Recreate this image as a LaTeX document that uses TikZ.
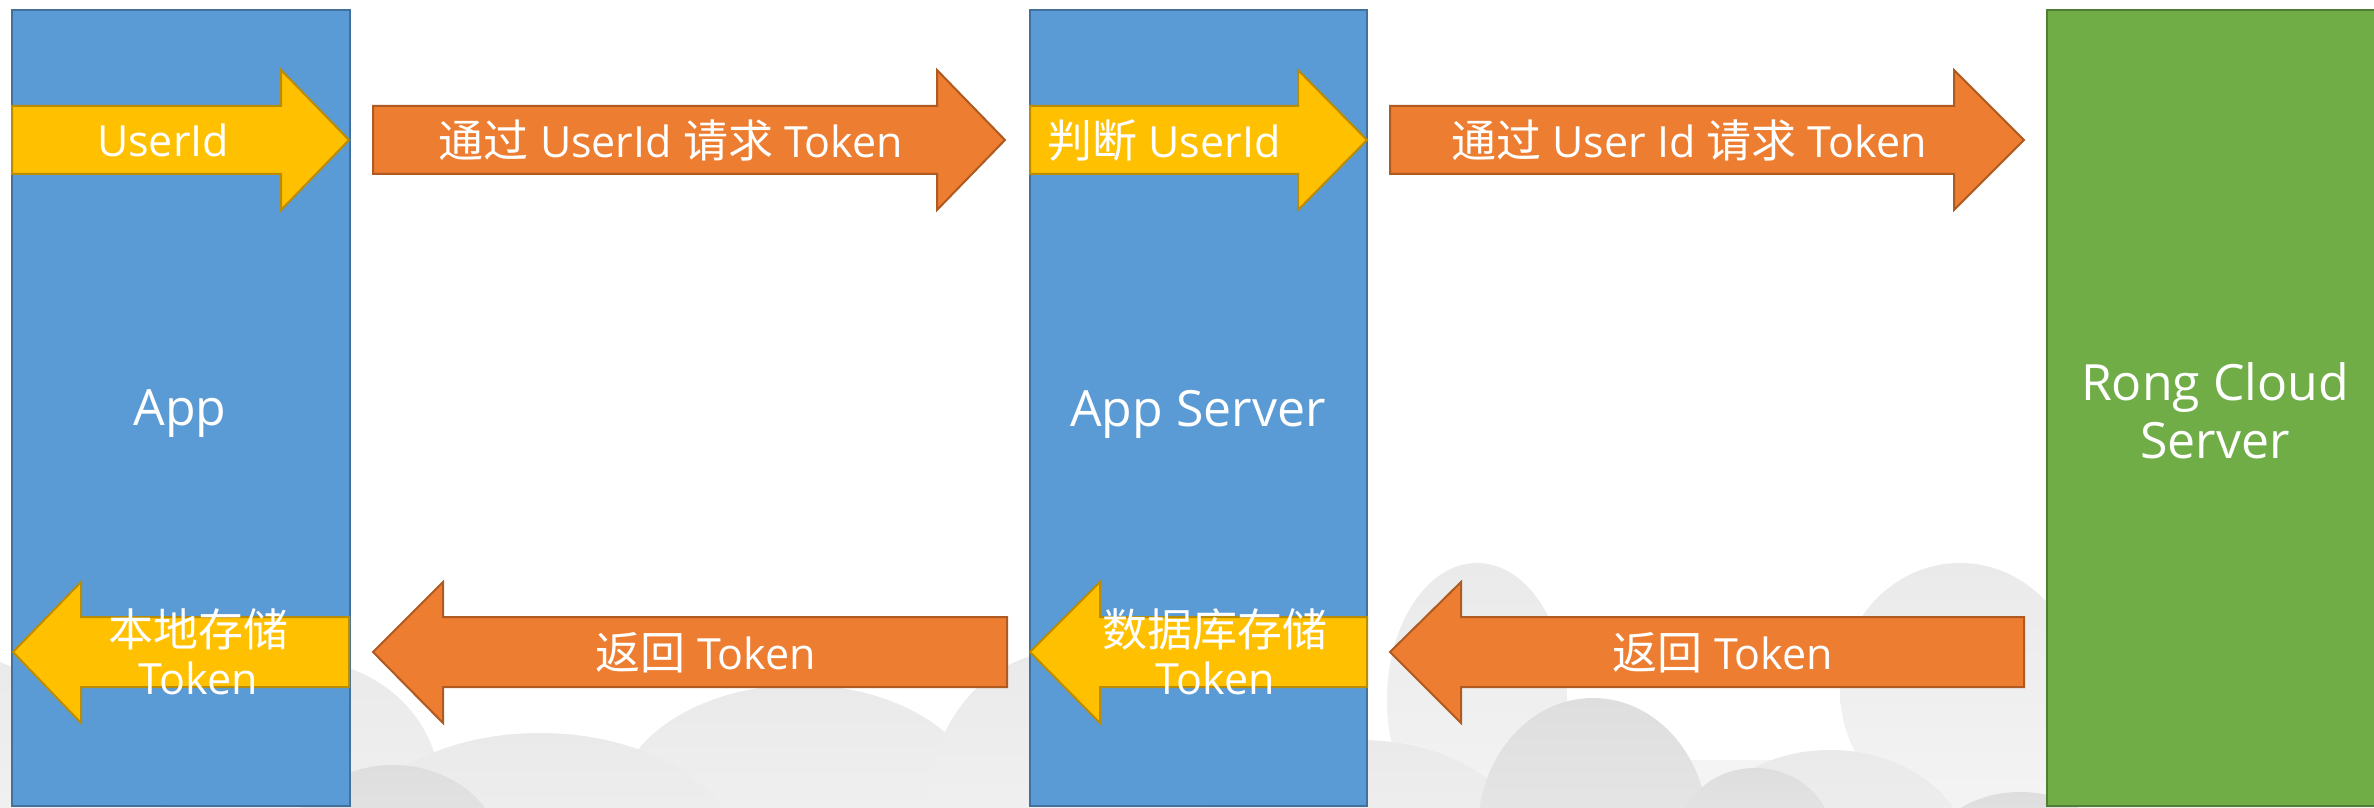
\documentclass[tikz,border=0pt]{standalone}
\usepackage{fontspec}
\setmainfont{Open Sans}
\newfontfamily\cjk{Noto Sans CJK SC}
\definecolor{boxblue}{HTML}{5B9BD5}
\definecolor{boxblueline}{HTML}{41719C}
\definecolor{arrowyellow}{HTML}{FFC000}
\definecolor{arrowyellowline}{HTML}{BC8C00}
\definecolor{arroworange}{HTML}{ED7D31}
\definecolor{arroworangeline}{HTML}{AE5A21}
\definecolor{boxgreen}{HTML}{70AD47}
\definecolor{boxgreenline}{HTML}{507E32}
\definecolor{cloudbacktop}{HTML}{EAEAEA}
\definecolor{cloudbackbot}{HTML}{F4F4F4}
\definecolor{cloudfronttop}{HTML}{DEDEDE}
\definecolor{cloudfrontbot}{HTML}{EEEEEE}
\tikzset{
  bluebox/.style={draw=boxblueline, fill=boxblue, line width=1.2pt},
  greenbox/.style={draw=boxgreenline, fill=boxgreen, line width=1.2pt},
  yellowarrow/.style={draw=arrowyellowline, fill=arrowyellow, line width=1pt, line join=miter},
  orangearrow/.style={draw=arroworangeline, fill=arroworange, line width=1pt, line join=miter},
  arrowtext/.style={text=white, font=\fontsize{21.5}{24}\selectfont, align=center, inner sep=0pt},
  boxtext/.style={text=white, font=\fontsize{25}{29}\selectfont, align=center, inner sep=0pt},
  backcloud/.style={top color=cloudbacktop, bottom color=cloudbackbot, draw=none},
  frontcloud/.style={top color=cloudfronttop, bottom color=cloudfrontbot, draw=none}
}
\newcommand{\zh}[1]{{\cjk\fontsize{22.5}{24}\selectfont #1}}
\begin{document}
\begin{tikzpicture}[x=0.5pt,y=-0.5pt]
\useasboundingbox (0,0) rectangle (2374,808);
\fill[white] (0,0) rectangle (2374,808);
% background clouds
\begin{scope}
\clip (0,0) rectangle (2374,808);
\fill[cloudbackbot] (0,760) rectangle (2374,808);
\shade[backcloud] (-40,780) ellipse [x radius=120, y radius=125];
\shade[backcloud] (300,790) ellipse [x radius=140, y radius=130];
\shade[backcloud] (800,810) ellipse [x radius=185, y radius=125];
\shade[backcloud] (540,860) ellipse [x radius=200, y radius=127];
\shade[backcloud] (1070,800) ellipse [x radius=140, y radius=150];
\shade[backcloud] (1477,700) ellipse [x radius=90, y radius=137];
\shade[backcloud] (1960,690) ellipse [x radius=120, y radius=127];
\shade[backcloud] (1360,840) ellipse [x radius=160, y radius=100];
\shade[backcloud] (1830,860) ellipse [x radius=140, y radius=110];
\shade[frontcloud] (393,860) ellipse [x radius=110, y radius=95];
\shade[frontcloud] (1593,830) ellipse [x radius=115, y radius=132];
\shade[frontcloud] (1755,840) ellipse [x radius=78, y radius=72];
\shade[frontcloud] (2020,860) ellipse [x radius=92, y radius=68];
\end{scope}
% system boxes
\draw[bluebox] (12,10) rectangle (350,806);
\draw[bluebox] (1030,10) rectangle (1367,806);
\draw[greenbox] (2047,10) rectangle (2390,806);
\node[boxtext] (app) at (180,414) {App};
\node[boxtext] (appserver) at (1198,414) {App Server};
\node[boxtext] (rong) at (2215,411) {Rong Cloud\\Server};
% top row arrows (to the right)
\draw[yellowarrow] (12,106) -- (281,106) -- (281,70) -- (349,140) -- (281,210) -- (281,174) -- (12,174) -- cycle;
\draw[orangearrow] (373,106) -- (937,106) -- (937,70) -- (1005,140) -- (937,210) -- (937,174) -- (373,174) -- cycle;
\draw[yellowarrow] (1030,106) -- (1298,106) -- (1298,70) -- (1367,140) -- (1298,210) -- (1298,174) -- (1030,174) -- cycle;
\draw[orangearrow] (1390,106) -- (1954,106) -- (1954,70) -- (2024,140) -- (1954,210) -- (1954,174) -- (1390,174) -- cycle;
\node[arrowtext] (t1) at (163,140) {UserId};
\node[arrowtext] (t2) at (671,140) {\zh{通过} UserId \zh{请求} Token};
\node[arrowtext] (t3) at (1164,140) {\zh{判断} UserId};
\node[arrowtext] (t4) at (1689,140) {\zh{通过} User Id \zh{请求} Token};
% bottom row arrows (to the left)
\draw[yellowarrow] (13,652) -- (81,582) -- (81,617) -- (349,617) -- (349,687) -- (81,687) -- (81,723) -- cycle;
\draw[orangearrow] (373,652) -- (443,582) -- (443,617) -- (1007,617) -- (1007,687) -- (443,687) -- (443,723) -- cycle;
\draw[yellowarrow] (1030,652) -- (1100,582) -- (1100,617) -- (1367,617) -- (1367,687) -- (1100,687) -- (1100,723) -- cycle;
\draw[orangearrow] (1390,652) -- (1461,582) -- (1461,617) -- (2024,617) -- (2024,687) -- (1461,687) -- (1461,723) -- cycle;
\node[arrowtext] (b1) at (198,652) {\zh{本地存储}\\Token};
\node[arrowtext] (b2) at (706,653) {\zh{返回} Token};
\node[arrowtext] (b3) at (1215,652) {\zh{数据库存储}\\Token};
\node[arrowtext] (b4) at (1723,653) {\zh{返回} Token};
\end{tikzpicture}
\end{document}
